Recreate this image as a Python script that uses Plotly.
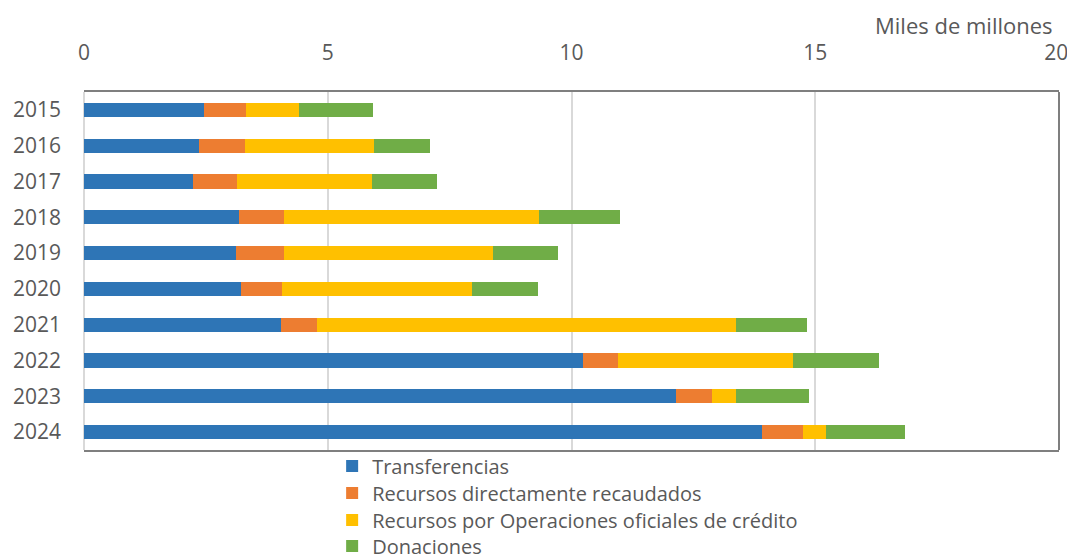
import plotly.graph_objects as go

years = ["2015", "2016", "2017", "2018", "2019", "2020", "2021", "2022", "2023", "2024"]
transferencias = [2.46, 2.35, 2.24, 3.17, 3.11, 3.23, 4.05, 10.24, 12.14, 13.91]
recaudados = [0.86, 0.95, 0.89, 0.94, 1.00, 0.84, 0.72, 0.72, 0.74, 0.83]
credito = [1.10, 2.65, 2.78, 5.22, 4.28, 3.89, 8.61, 3.59, 0.49, 0.48]
donaciones = [1.50, 1.15, 1.34, 1.66, 1.34, 1.35, 1.46, 1.76, 1.51, 1.62]
x_ticks = [0, 5, 10, 15, 20]
x_tick_labels = ["0", "5", "10", "15", "20\u00a0"]

series = [
    ("Transferencias", transferencias, "#2E75B6"),
    ("Recursos directamente recaudados", recaudados, "#ED7D31"),
    ("Recursos por Operaciones oficiales de crédito", credito, "#FFC000"),
    ("Donaciones", donaciones, "#70AD47"),
]

font_family = "Open Sans, Noto Sans, sans-serif"
text_color = "#595959"
border_color = "#7F7F7F"
legend_names = ["legend", "legend2", "legend3", "legend4"]
legend_y = [-0.045, -0.120, -0.1955, -0.268]

fig = go.Figure()
for (name, vals, color), lg in zip(series, legend_names):
    fig.add_trace(go.Bar(
        y=years, x=vals, name=name, orientation="h", legend=lg,
        showlegend=True,
        marker=dict(color=color, line=dict(width=0)),
    ))

legend_common = dict(
    orientation="v", x=0.2545, xanchor="left", yanchor="middle",
    font=dict(size=20, color=text_color), itemwidth=30,
    bgcolor="rgba(0,0,0,0)",
)

fig.update_layout(
    showlegend=True,
    barmode="stack",
    bargap=0.6,
    width=1067, height=547,
    margin=dict(l=76, r=16, t=84, b=105, autoexpand=False),
    plot_bgcolor="white", paper_bgcolor="white",
    font=dict(family=font_family, size=20, color=text_color),
    xaxis=dict(
        side="top", range=[0, 20], tickvals=x_ticks, ticktext=x_tick_labels,
        showgrid=True, gridcolor="#D9D9D9", gridwidth=2,
        showline=True, linecolor=border_color, linewidth=2, mirror=True,
        ticks="", zeroline=True, zerolinecolor="#D9D9D9", zerolinewidth=2,
        ticklabelstandoff=22, automargin=False, ticklabeloverflow="allow",
        tickfont=dict(size=21),
    ),
    yaxis=dict(
        autorange="reversed", categoryorder="array", categoryarray=years,
        showline=False, ticks="", showgrid=False, ticklabelstandoff=22,
        automargin=False, tickfont=dict(size=21),
    ),
    shapes=[dict(
        type="line", xref="paper", yref="paper", x0=1, x1=1, y0=0, y1=1,
        line=dict(color=border_color, width=2),
    )],
    legend=dict(legend_common, y=legend_y[0]),
    legend2=dict(legend_common, y=legend_y[1]),
    legend3=dict(legend_common, y=legend_y[2]),
    legend4=dict(legend_common, y=legend_y[3]),
    annotations=[dict(
        text="Miles de millones", xref="paper", yref="paper",
        x=1.0, xanchor="right", xshift=-4, y=1.0, yanchor="middle", yshift=67,
        showarrow=False, font=dict(size=22, color=text_color),
    )],
)

fig.write_html("out.html")
